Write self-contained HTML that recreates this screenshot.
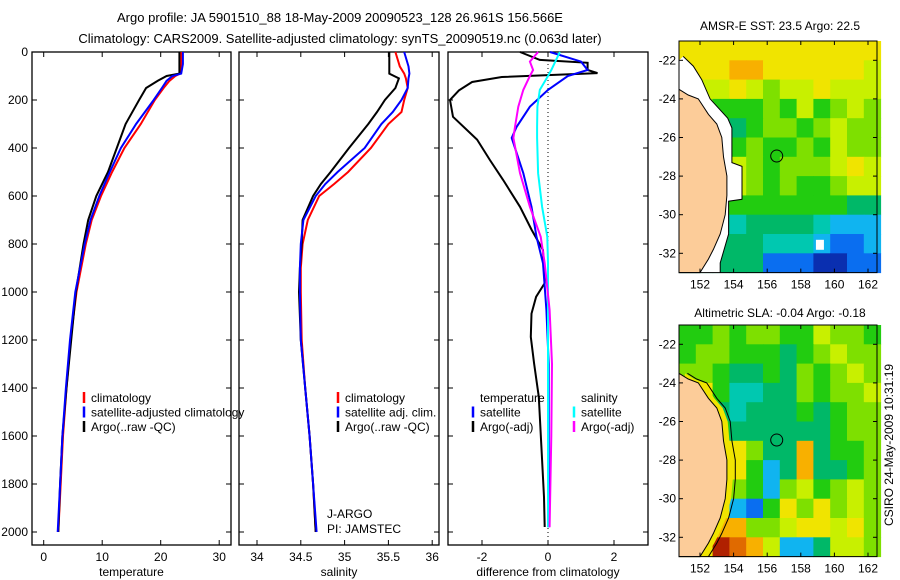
<!DOCTYPE html>
<html><head><meta charset="utf-8"><style>
body{margin:0;background:#fff;}
svg{display:block;font-family:"Liberation Sans",sans-serif;}
</style></head><body>
<svg id="fig" width="900" height="580" viewBox="0 0 900 580" xmlns="http://www.w3.org/2000/svg">
<text x="340" y="22" font-size="13" text-anchor="middle">Argo profile: JA 5901510_88 18-May-2009 20090523_128 26.961S 156.566E</text>
<text x="340" y="43" font-size="13" text-anchor="middle">Climatology: CARS2009. Satellite-adjusted climatology: synTS_20090519.nc (0.063d later)</text>
<g id="plots"></g>
<text x="780" y="30" font-size="12" text-anchor="middle">AMSR-E SST: 23.5 Argo: 22.5</text>
<text x="780" y="317" font-size="12" text-anchor="middle">Altimetric SLA: -0.04 Argo: -0.18</text>
<text transform="translate(893,445) rotate(-90)" font-size="12" text-anchor="middle">CSIRO 24-May-2009 10:31:19</text>
</svg>
<script>
// ---- data ----
const depthT = [0,50,90,100,120,150,200,300,400,500,600,700,800,1000,1200,1400,1600,1800,2000];
const tempArgo = [23.2,23.2,23.2,21,19.5,17.5,16.3,14,12.5,11,9,7.6,6.8,5.5,4.7,3.9,3.2,2.8,2.5];
const tempClim = [23.5,23.5,23.3,22.5,21.5,20.5,19,16.6,13.8,11.7,9.8,8.2,7.2,5.6,4.6,3.9,3.3,2.9,2.5];
const tempSat = [23.8,23.8,23.5,22,21,20.2,18.8,15.8,13.2,11.3,9.5,8,7,5.4,4.5,3.8,3.2,2.8,2.4];
const depthS = [0,60,90,110,150,200,250,300,400,500,550,600,700,800,900,1000,1200,1400,1600,1800,2000];
const salArgo = [35.51,35.51,35.51,35.62,35.58,35.46,35.37,35.27,35.05,34.84,34.73,34.64,34.52,34.51,34.49,34.48,34.5,34.55,34.6,34.64,34.67];
const salClim = [35.58,35.63,35.68,35.7,35.72,35.68,35.65,35.5,35.3,35.04,34.88,34.71,34.58,34.52,34.5,34.5,34.51,34.55,34.6,34.64,34.67];
const salSat = [35.68,35.73,35.74,35.73,35.72,35.65,35.55,35.42,35.23,34.92,34.78,34.67,34.53,34.5,34.49,34.49,34.5,34.55,34.6,34.64,34.68];
const depthDA = [0,33,45,75,88,104,125,160,200,270,365,450,533,645,740,825,963,1020,1090,1187,1298,1437,1645,1854,1979];
const diffTArgo = [-0.85,-0.25,1.2,1.2,1.5,-1.4,-2.3,-2.7,-2.97,-2.88,-2.15,-1.76,-1.36,-0.85,-0.5,-0.15,-0.1,-0.36,-0.5,-0.52,-0.42,-0.28,-0.2,-0.12,-0.1];
const depthDB = [0,40,75,100,158,228,312,358,505,645,770,880,1075,1300,1600,1980];
const diffTSat = [0.06,1.0,1.2,0.6,0,-0.55,-0.95,-1.1,-0.75,-0.5,-0.35,-0.15,-0.05,0.02,0.02,0.02];
const diffSArgo = [-0.3,-0.55,-0.45,-0.55,-0.75,-0.9,-1.0,-1.05,-0.85,-0.55,-0.22,-0.1,0.05,0.12,0.1,0.05];
const diffSSat = [0.36,0.22,0.1,0,-0.25,-0.32,-0.33,-0.33,-0.3,-0.18,-0.02,0,0,0,0,0];
const depthTicks = [0,200,400,600,800,1000,1200,1400,1600,1800,2000];
const tempTicks = [0,10,20,30];
const salTicks = [34,34.5,35,35.5,36];
const salTickLabels = ["34","34.5","35","35.5","36"];
const diffTicks = [-2,0,2];
const latTicks = [-22,-24,-26,-28,-30,-32];
const lonTicks = [152,154,156,158,160,162];
const sstGrid = ["888888888888","888998888887","777876778777","665556575676","665456656766","665565565766","666765666787","667765655677","555555555544","444344443222","444443332112","444441110011"];
const slaGrid = ["556566557665","566555456766","665445465676","885334465667","884344454566","885444444566","888864494556","888852494456","888652675676","888215868676","889966788786","88ba97224776"];
const palette = ["#0a2fb0","#0a6ef0","#10b4f0","#00c8b0","#00b868","#22cc10","#7ee000","#c8f000","#f0e400","#f8b000","#e06a00","#b02000"];
const coast = [[150.75,-23.5],[151.3,-23.8],[151.9,-24.0],[152.5,-24.8],[153.0,-25.3],[153.3,-26.0],[153.4,-27.0],[153.6,-28.0],[153.6,-29.0],[153.5,-30.0],[153.2,-31.0],[152.8,-31.8],[152.5,-32.3],[152.0,-33],[150.75,-33]];
const gapSST = [[150.75,-22.0],[151.0,-21.8],[151.6,-22.3],[152.1,-23.0],[152.6,-24.0],[153.65,-25],[153.9,-25.5],[153.9,-27.3],[154.5,-27.5],[154.5,-29.2],[153.7,-29.3],[153.7,-31],[153.2,-32.5],[153.2,-33],[150.75,-33]];
const argoPos = [156.566,-26.961];

// ---- axis functions ----
const yD = d => 52 + d*0.24;
const xT = v => 43.7 + v*5.85;
const xS = v => 257 + (v-34)*87.6;
const xDf = v => 548 + v*33;
const NS = "http://www.w3.org/2000/svg";
const G = document.getElementById('plots');
function el(tag, attrs, parent){const e=document.createElementNS(NS,tag);for(const k in attrs)e.setAttribute(k,attrs[k]);(parent||G).appendChild(e);return e;}
function txt(x,y,s,size,anchor,parent){const t=el('text',{x:x,y:y,'font-size':size,'text-anchor':anchor},parent);t.textContent=s;return t;}

function panel(name,x0,x1,xf,ticks,labels,xlabel,showY){
  const g=el('g',{});
  
  
  const fr=el('rect',{x:x0,y:52,width:x1-x0,height:493,fill:'none',stroke:'#000','stroke-width':1.3},g);
  
  
  ticks.forEach((v,i)=>{
    const x=xf(v);
    el('line',{x1:x,x2:x,y1:52,y2:57,stroke:'#000'},g);
    el('line',{x1:x,x2:x,y1:545,y2:540,stroke:'#000'},g);
    const t=txt(x,561,labels[i],12,'middle',g);
    
    
  });
  depthTicks.forEach(d=>{
    const y=yD(d);
    el('line',{x1:x0,x2:x0+5,y1:y,y2:y,stroke:'#000'},g);
    el('line',{x1:x1,x2:x1-5,y1:y,y2:y,stroke:'#000'},g);
    if(showY){const t=txt(x0-4,y+4,String(d),12,'end',g);
      
      }
  });
  const xl=txt((x0+x1)/2,576,xlabel,12,'middle',g);
  
  
  return g;
}
function series(name,depths,vals,xf,color,g){
  const pts=vals.map((v,i)=>xf(v).toFixed(1)+','+yD(depths[i]).toFixed(1)).join(' ');
  const p=el('polyline',{points:pts,fill:'none',stroke:color,'stroke-width':2},g);
  
  
}
function legend(items,x,y,g){
  items.forEach((it,i)=>{
    const yy=y+i*14.5;
    if(it[1]) el('line',{x1:x,x2:x,y1:yy-10,y2:yy+1,stroke:it[1],'stroke-width':2.5},g);
    const t=txt(x+7,yy,it[0],12,'start',g);
    
    
  });
}
const p1=panel('temperature-panel',32,231,xT,tempTicks,tempTicks.map(String),'temperature',true);
series('temp-clim-line',depthT,tempClim,xT,'#f00',p1);
series('temp-argo-line',depthT,tempArgo,xT,'#000',p1);
series('temp-sat-line',depthT,tempSat,xT,'#00f',p1);
legend([['climatology','#f00'],['satellite-adjusted climatology','#00f'],['Argo(..raw -QC)','#000']],84,402,p1);
const p2=panel('salinity-panel',239,439,xS,salTicks,salTickLabels,'salinity',false);
series('sal-clim-line',depthS,salClim,xS,'#f00',p2);
series('sal-argo-line',depthS,salArgo,xS,'#000',p2);
series('sal-sat-line',depthS,salSat,xS,'#00f',p2);
legend([['climatology','#f00'],['satellite adj. clim.','#00f'],['Argo(..raw -QC)','#000']],338,402,p2);
txt(327,518,'J-ARGO',12,'start',p2);
txt(327,533,'PI: JAMSTEC',12,'start',p2);
const p3=panel('difference-panel',448,648,xDf,diffTicks,diffTicks.map(String),'difference from climatology',false);
el('line',{x1:xDf(0),x2:xDf(0),y1:52,y2:545,stroke:'#000','stroke-dasharray':'1,3'},p3);
series('diff-temp-argo-line',depthDA,diffTArgo,xDf,'#000',p3);
series('diff-temp-sat-line',depthDB,diffTSat,xDf,'#00f',p3);
series('diff-sal-sat-line',depthDB,diffSSat,xDf,'#0ff',p3);
series('diff-sal-argo-line',depthDB,diffSArgo,xDf,'#f0f',p3);
legend([['temperature',null],['satellite','#00f'],['Argo(-adj)','#000']],473,402,p3);
legend([['salinity',null],['satellite','#0ff'],['Argo(-adj)','#f0f']],574,402,p3);

function map(name,top,grid,gap){
  const mx=lon=>679+(lon-150.75)*16.8, my=lat=>top+(-21-lat)*19.3;
  const g=el('g',{});
  
  
  grid.forEach((row,r)=>{for(let c=0;c<row.length;c++){
    const v=parseInt(row[c],16);
    const cell=el('rect',{x:mx(150.75+c),y:my(-21-r),width:17.3,height:19.8,fill:palette[v]},g);
    
    
  }});
  const poly=a=>a.map(p=>mx(p[0]).toFixed(1)+','+my(p[1]).toFixed(1)).join(' ');
  if(gap){el('polygon',{points:poly(gap),fill:'#fff'},g);
    el('rect',{x:mx(158.9),y:my(-31.3),width:8,height:10,fill:'#fff'},g);}
  else{el('polygon',{points:poly(coast.map(p=>[p[0]+0.35,p[1]])),fill:'#f0e400'},g);}
  el('polyline',{points:poly(gap?gap.slice(1,-1):coast.slice(0,-1).map(p=>[p[0]+0.5,p[1]])),fill:'none',stroke:'#000','stroke-width':1},g);
  const land=el('polygon',{points:poly(coast),fill:'#fccc99',stroke:'#000','stroke-width':1},g);
  
  
  const mk=el('circle',{cx:mx(argoPos[0]),cy:my(argoPos[1]),r:6,fill:'none',stroke:'#000','stroke-width':1},g);
  
  
  const bot=my(-33);
  el('rect',{x:679,y:top,width:198,height:bot-top,fill:'none',stroke:'#000','stroke-width':1},g);
  latTicks.forEach(l=>{const y=my(l);
    el('line',{x1:679,x2:683,y1:y,y2:y,stroke:'#000'},g);
    el('line',{x1:877,x2:873,y1:y,y2:y,stroke:'#000'},g);
    const t=txt(676,y+4,String(l),12,'end',g);
    
    });
  lonTicks.forEach(l=>{const x=mx(l);
    el('line',{x1:x,x2:x,y1:top,y2:top+4,stroke:'#000'},g);
    el('line',{x1:x,x2:x,y1:bot,y2:bot-4,stroke:'#000'},g);
    const t=txt(x,bot+16,String(l),12,'middle',g);
    
    });
}
map('sst-map',41,sstGrid,gapSST);
map('sla-map',325,slaGrid,null);
</script>
</body></html>
